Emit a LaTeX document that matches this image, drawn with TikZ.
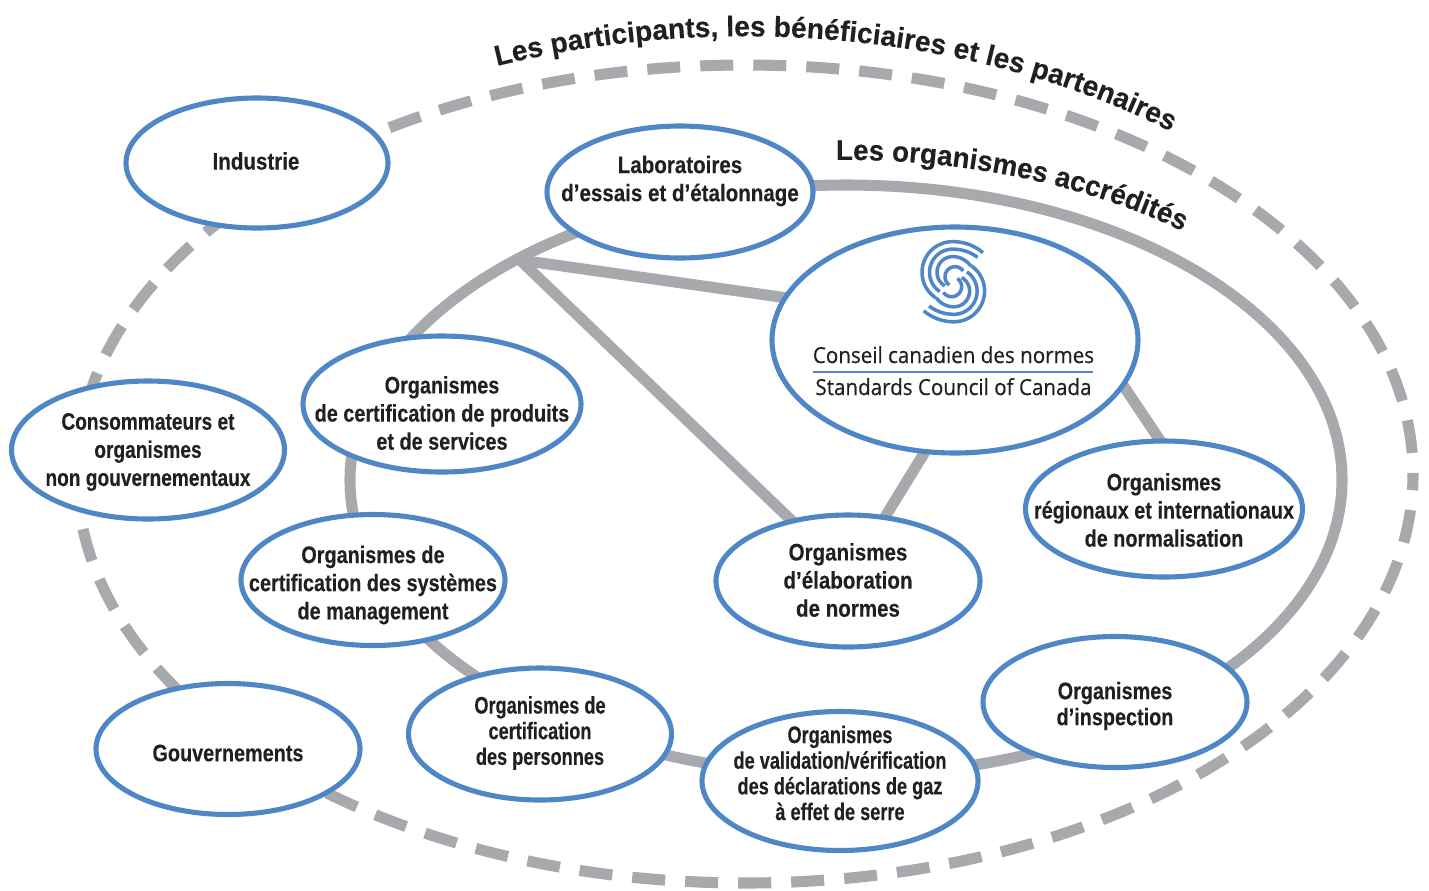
\documentclass[tikz,border=0pt]{standalone}
\usepackage{fontspec}
\usetikzlibrary{shapes.geometric,decorations.text,backgrounds}
\setmainfont{Liberation Sans}
\newfontfamily\lblf[FakeStretch=0.83,FakeBold=0.25]{Liberation Sans}
\newfontfamily\lblwf[FakeStretch=0.86,FakeBold=0.25]{Liberation Sans}
\newfontfamily\lblcf[FakeStretch=0.80,FakeBold=0.25]{Liberation Sans}
\newfontfamily\lbltf[FakeStretch=0.76,FakeBold=0.25]{Liberation Sans}
\newfontfamily\logof[FakeStretch=0.93,FakeBold=0.5]{Open Sans}
\newfontfamily\titlef[FakeStretch=0.97,FakeBold=0.2]{Liberation Sans}
\newfontfamily\titleof[FakeStretch=0.983,FakeBold=0.2]{Liberation Sans}
\definecolor{ringgray}{HTML}{A7A9AC}
\definecolor{ovalblue}{HTML}{4F86C6}
\definecolor{ink}{HTML}{231F20}
\tikzset{
  ovalbox/.style 2 args={ellipse,draw=ovalblue,line width=2.9pt,fill=white,inner sep=0pt,outer sep=0pt,
     minimum width=#1*0.02cm,minimum height=#2*0.02cm},
  txtbase/.style={align=center,text=ink,inner sep=0pt},
  txt/.style={txtbase,font=\lblf\fontsize{13.6}{16}\selectfont\bfseries},
  txtw/.style={txtbase,font=\lblwf\fontsize{13.6}{16}\selectfont\bfseries},
  txtc/.style={txtbase,font=\lblcf\fontsize{13.6}{16}\selectfont\bfseries},
  txtn/.style={txtbase,font=\lbltf\fontsize{13.6}{14.6}\selectfont\bfseries},
  txti/.style={txtbase,font=\lblf\fontsize{13.6}{14.8}\selectfont\bfseries},
  logotxt/.style={text=ink,inner sep=0pt,font=\logof\fontsize{12.6}{15}\selectfont\mdseries},
  graybar/.style={draw=ringgray,line width=6.3pt},
  logoarc/.style={draw=ovalblue,line width=2pt},
}
\newcommand{\spiralarm}[6]{\draw[logoarc] plot[domain=#5:#6,samples=40,smooth]
  ({#1+(#3+#4*pow(max(0,(90-\x)/55),2))*cos(\x)},{#2-(#3+#4*pow(max(0,(90-\x)/55),2))*sin(\x)});}
\newcommand{\logoarms}{%
  \spiralarm{952.7}{272.3}{30.7}{5}{33}{236}
  \spiralarm{952.7}{272.3}{23.2}{5}{31}{236}
  \spiralarm{952.7}{272.3}{15.7}{2}{20}{240}
  \spiralarm{955}{276.7}{10.0}{0}{35}{235}
}
\begin{document}
\begin{tikzpicture}[x=0.02cm,y=-0.02cm]
\useasboundingbox (0,0) rectangle (1429,890);
% nodes
\node[ovalbox={262}{130}] (ind) at (257,163) {};
\node[ovalbox={266}{132}] (lab) at (680,192) {};
\node[ovalbox={366}{226}] (csc) at (955,340) {};
\node[ovalbox={278}{136}] (prod) at (442,404) {};
\node[ovalbox={273}{138}] (cons) at (148,450) {};
\node[ovalbox={264}{131}] (sys) at (373,580) {};
\node[ovalbox={264}{132}] (elab) at (848,581) {};
\node[ovalbox={277}{136}] (reg) at (1164,509) {};
\node[ovalbox={264}{131}] (insp) at (1115,702) {};
\node[ovalbox={264}{131}] (gouv) at (228,749) {};
\node[ovalbox={263}{132}] (pers) at (540,734) {};
\node[ovalbox={276}{139}] (ges) at (840,781) {};
\coordinate (hub) at (520,260);
\begin{scope}[on background layer]
% outer dashed ellipse
\draw[graybar,dash pattern=on 18.8pt off 11.4pt,dash phase=18.2pt] (745,474) ellipse[x radius=668*0.02cm,y radius=409*0.02cm];
% inner ring
\draw[graybar] (846,480) ellipse[x radius=496*0.02cm,y radius=295*0.02cm];
% spokes
\draw[graybar,shorten >=-2pt] (hub) -- (csc.166);
\draw[graybar,shorten >=-2pt] (hub) -- (elab.133);
\draw[graybar,shorten >=-2pt,shorten <=-2pt] (csc.-15) -- (reg.93);
\draw[graybar,shorten >=-2pt,shorten <=-2pt] (csc.-105) -- (elab.60);
\end{scope}
% labels
\node[txtw] (indT) at (256,161) {Industrie};
\node[txtw] (labT) at (680,181) {Laboratoires\\d’essais et d’étalonnage};
\node[txt] (prodT) at (442,413) {Organismes\\de certification de produits\\et de services};
\node[txtc] (consT) at (148,452) {Consommateurs et\\organismes\\non gouvernementaux};
\node[txt] (sysT) at (373,585) {Organismes de\\certification des systèmes\\de management};
\node[txtw] (elabT) at (848,580) {Organismes\\d’élaboration\\de normes};
\node[txt] (regT) at (1164,510) {Organismes\\régionaux et internationaux\\de normalisation};
\node[txti] (inspT) at (1115,706) {Organismes\\d’inspection};
\node[txt] (gouvT) at (228,753) {Gouvernements};
\node[txtn] (persT) at (540,733) {Organismes de\\certification\\des personnes};
\node[txtn] (gesT) at (840,773) {Organismes\\de validation/vérification\\des déclarations de gaz\\à effet de serre};
% CSC logo
\logoarms
\begin{scope}[rotate around={180:(953.3,281.7)}]
\logoarms
\end{scope}
\node[logotxt,anchor=base] (cscFr) at (953.5,363) {Conseil canadien des normes};
\node[logotxt,anchor=base] (cscEn) at (953.5,395) {Standards Council of Canada};
\coordinate (ruleA) at (813,372);
\coordinate (ruleB) at (1093,372);
\draw[ovalblue,line width=0.6pt] (ruleA) -- (ruleB);
% curved titles
\path[decorate,decoration={text along path,text align=left,raise=0pt,
  text={|\titleof\fontsize{16.3}{18}\selectfont\bfseries\color{ink}|Les participants{,} les bénéficiaires et les partenaires}}]
  (497,66) arc[start angle=111.2,end angle=40,x radius=685*0.02cm,y radius=439*0.02cm];
\path[decorate,decoration={text along path,text align=left,raise=0pt,
  text={|\titlef\fontsize{16.3}{18}\selectfont\bfseries\color{ink}|Les organismes accrédités}}]
  (836,160) arc[start angle=91,end angle=40,x radius=536*0.02cm,y radius=320*0.02cm];
\end{tikzpicture}
\end{document}
